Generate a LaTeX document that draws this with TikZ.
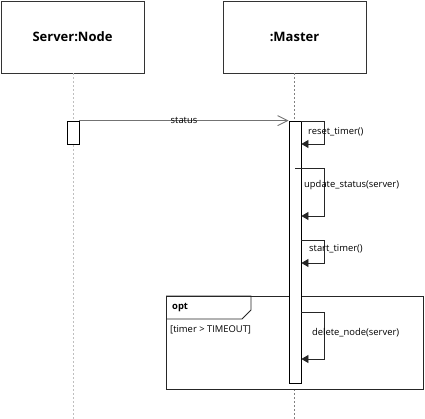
\documentclass[tikz,border=0pt]{standalone}
\usepackage{fontspec}
\setmainfont{Open Sans}
\usetikzlibrary{arrows.meta}
\begin{document}
\begin{tikzpicture}[x=1pt,y=-1pt,
  obj/.style={draw=black!80,line width=0.9pt,fill=white,minimum width=143pt,minimum height=72pt,inner sep=0pt,font=\fontsize{13}{15}\selectfont\bfseries},
  life/.style={draw=black!25,dashed,dash pattern=on 2pt off 2pt,line width=0.8pt},
  lifed/.style={draw=black!50,dashed,dash pattern=on 2pt off 2pt,line width=0.8pt},
  act/.style={draw=black,line width=0.8pt,fill=white,minimum width=12pt,inner sep=0pt},
  msg/.style={draw=black!55,line width=1pt,-{Straight Barb[length=10pt,width=10pt,line width=0.9pt]}},
  self/.style={draw=black!85,line width=0.8pt,-{Triangle[length=7pt,width=8pt]}},
  lbl/.style={font=\fontsize{9.4}{11}\selectfont,inner sep=0pt,anchor=west},
  frame/.style={draw=black!85,line width=0.8pt}
]
\useasboundingbox (0,0) rectangle (425,419);
\node[obj] (srv) at (72.5,37) {Server:Node};
\node[obj] (mst) at (294.5,37) {:Master};
\coordinate (srvend) at (73,419);
\coordinate (mstend) at (294,419);
\draw[life] (srv.south -| srvend) -- (srvend);
\draw[lifed] (mst.south -| mstend) -- (mstend);
% opt frame
\draw[frame,fill=white] (166,296) rectangle (423,389);
\draw[frame] (166,296) -- (251,296) -- (251,310) -- (242,319) -- (166,319);
\node[lbl,font=\fontsize{9.4}{11}\selectfont\bfseries] (opt) at (172,308) {opt};
\node[lbl] (guard) at (170,330) {[timer > TIMEOUT]};
% activations
\node[act,minimum height=23pt] (sact) at (73,132.5) {};
\node[act,minimum height=262pt] (mact) at (295,252) {};
% status
\draw[msg] (sact.north east) -- (mact.north west) node[midway,font=\fontsize{9.4}{11}\selectfont,inner sep=0pt] (st) {status};
% self messages
\coordinate (r1a) at (301,121); \coordinate (r1b) at (324,144);
\draw[self] (r1a) -| (r1b) -- (r1b -| mact.east);
\node[lbl] (l1) at (308,132) {reset\_timer()};
\coordinate (r2a) at (295,168); \coordinate (r2b) at (324,216);
\draw[self] (r2a) -| (r2b) -- (r2b -| mact.east);
\node[lbl] (l2) at (304,185) {update\_status(server)};
\coordinate (r3a) at (301,240); \coordinate (r3b) at (324,263);
\draw[self] (r3a) -| (r3b) -- (r3b -| mact.east);
\node[lbl] (l3) at (309,249) {start\_timer()};
\coordinate (r4a) at (301,312); \coordinate (r4b) at (324,359);
\draw[self] (r4a) -| (r4b) -- (r4b -| mact.east);
\node[lbl] (l4) at (312,333) {delete\_node(server)};
\end{tikzpicture}
\end{document}
